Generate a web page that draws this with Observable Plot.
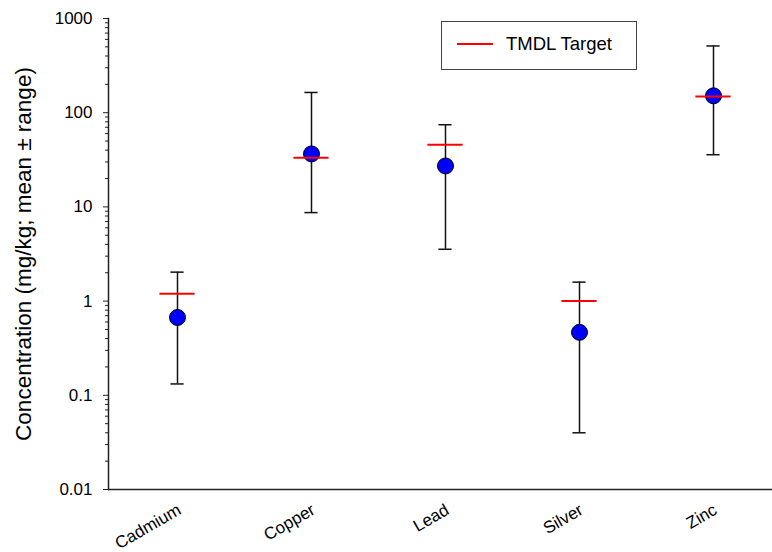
<!DOCTYPE html>
<html><head><meta charset="utf-8">
<script src="https://cdn.jsdelivr.net/npm/d3@7"></script>
<script src="https://cdn.jsdelivr.net/npm/@observablehq/plot@0.6"></script>
<style>
body{margin:0;background:#fff;font-family:Arial,"Liberation Sans",sans-serif;}
#wrap{position:relative;width:772px;height:552px;}
#legend{position:absolute;left:441px;top:21px;width:194px;height:47px;border:1px solid #444;background:#fff;}
#legend .sw{position:absolute;left:15px;top:21px;width:36px;height:2px;background:#ff0000;}
#legend .tx{position:absolute;left:64px;top:11px;font-size:18.5px;color:#000;white-space:nowrap;}
</style></head><body><div id="wrap"></div>
<script>
const metals = ["Cadmium", "Copper", "Lead", "Silver", "Zinc"];
const means = [0.67, 36.5, 27.2, 0.466, 151];
const rangeLow = [0.132, 8.7, 3.55, 0.04, 35.8];
const rangeHigh = [2.03, 164, 74.5, 1.59, 511];
const tmdlTarget = [1.2, 33.3, 45.7, 1.0, 149];
const yTicks = [0.01, 0.1, 1, 10, 100, 1000];
const yTickLabels = ["0.01", "0.1", "1", "10", "100", "1000"];
const yLabel = "Concentration (mg/kg; mean \u00b1 range)";
const legendLabel = "TMDL Target";

const minorTicks = [];
for (const d of yTicks.slice(0, -1)) for (let k = 2; k <= 9; k++) minorTicks.push(+(d * k).toPrecision(3));

const data = metals.map((m, i) => ({metal: m, mean: means[i], lo: rangeLow[i], hi: rangeHigh[i], tmdl: tmdlTarget[i]}));

const bw = 134.8;
const font = 'Arial, "Liberation Sans", sans-serif';
const chart = Plot.plot({
  width: 772, height: 552,
  marginLeft: 108, marginRight: 0, marginTop: 18, marginBottom: 63,
  style: {fontFamily: font, background: "#fff", color: "#000", overflow: "visible"},
  x: {type: "band", domain: metals, range: [108, 108 + 5 * bw], padding: 0},
  y: {type: "log", domain: [0.01, 1000]},
  marks: [
    Plot.axisY({ticks: minorTicks, tickSize: 3, tickFormat: () => "", label: null, stroke: "#222"}),
    Plot.axisY({ticks: yTicks, tickSize: 5, tickPadding: 11, fontSize: 17, label: null, stroke: "#222",
      tickFormat: d => yTickLabels[yTicks.indexOf(d)]}),
    Plot.axisY({ticks: [], label: yLabel, labelAnchor: "center", labelArrow: "none", labelOffset: 93, fontSize: 22.5}),
    Plot.axisX({tickSize: 0, tickRotate: -30, tickPadding: 19, fontSize: 17, label: null, dx: 2}),
    Plot.ruleY([0.01], {stroke: "#222", strokeWidth: 1.5}),
    Plot.frame({anchor: "left", stroke: "#222", strokeWidth: 1.5}),
    Plot.ruleX(data, {x: "metal", y1: "lo", y2: "hi", stroke: "#111", strokeWidth: 1.5}),
    Plot.tickY(data, {x: "metal", y: "hi", insetLeft: 60.4, insetRight: 60.4, stroke: "#111", strokeWidth: 1.5}),
    Plot.tickY(data, {x: "metal", y: "lo", insetLeft: 60.4, insetRight: 60.4, stroke: "#111", strokeWidth: 1.5}),
    Plot.dot(data, {x: "metal", y: "mean", r: 8, fill: "#0000ff", stroke: "#000", strokeWidth: 1}),
    Plot.tickY(data, {x: "metal", y: "tmdl", insetLeft: 49.4, insetRight: 49.4, stroke: "#ff0000", strokeWidth: 2})
  ]
});
const wrap = document.getElementById("wrap");
wrap.appendChild(chart);
const lg = document.createElement("div");
lg.id = "legend";
lg.innerHTML = '<div class="sw"></div><div class="tx"></div>';
lg.querySelector(".tx").textContent = legendLabel;
wrap.appendChild(lg);
</script>
</body></html>
